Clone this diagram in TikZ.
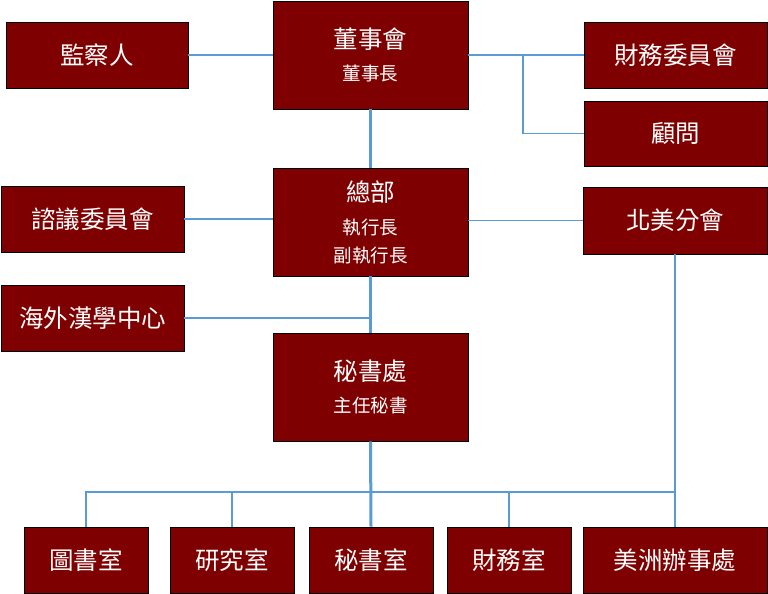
\documentclass[tikz,border=0pt]{standalone}
\usepackage{fontspec}
\usepackage{xcolor}
\usepackage{tikz}
\newfontfamily\cjk{Noto Sans CJK TC}
\definecolor{orgred}{HTML}{7F0000}
\definecolor{orgline}{HTML}{5B9BD5}
\newcommand\subsize{\fontsize{18.5}{24}\selectfont}

\begin{document}
\begin{tikzpicture}[x=1pt,y=-1pt,
  box/.style={rectangle,draw=black,line width=0.8pt,fill=orgred,
    text=white,inner sep=0pt,align=center,
    font=\cjk\fontsize{24.5}{28}\selectfont},
  unit/.style={box,minimum width=183pt,minimum height=66pt},
  big/.style={box,minimum width=195pt,minimum height=108pt},
  room/.style={box,minimum width=124pt,minimum height=66pt},
  link/.style={draw=orgline,line width=1.3pt},
  trunk/.style={draw=orgline,line width=3pt}]

  \useasboundingbox (0,0) rectangle (768,594);

  % top level
  \node[big] (board) at (370.5,55) {董事會\\[4pt]\subsize 董事長};
  \node[unit,minimum width=182pt] (audit) at (97,55) {監察人};
  \node[unit] (fincomm) at (675.5,55) {財務委員會};
  \node[unit,minimum height=65pt] (advisor) at (675.5,133.5) {顧問};

  % headquarters
  \node[big] (hq) at (370.5,222) {總部\\[5pt]\subsize 執行長\\\subsize 副執行長};
  \node[unit] (consult) at (92.5,219) {諮議委員會};
  \node[unit,minimum width=184pt,minimum height=67pt] (namerica) at (675,220.5) {北美分會};
  \node[unit] (overseas) at (92.5,318) {海外漢學中心};

  % secretariat
  \node[big] (secretariat) at (370.5,387) {秘書處\\[4pt]\subsize 主任秘書};

  % offices
  \node[room] (library) at (86,560) {圖書室};
  \node[room] (research) at (232,560) {研究室};
  \node[room] (secroom) at (371,560) {秘書室};
  \node[room] (finroom) at (509,560) {財務室};
  \node[unit,minimum width=184pt] (americas) at (675,560) {美洲辦事處};

  \coordinate (split) at (523,55);
  \coordinate (bus) at (371,492);

  \draw[link] (audit) -- (board);
  \draw[link] (board) -- (fincomm);
  \draw[link] (split) |- (advisor.west);
  \draw[link] (consult.east) -- (hq.west |- consult.east);
  \draw[link] (hq.east |- namerica) -- (namerica);
  \draw[link] (overseas.east) -- (hq.south |- overseas.east);
  \draw[trunk] (board) -- (hq);
  \draw[trunk] (hq) -- (secretariat);
  \draw[trunk] (secretariat.south) -- (secroom.north);
  \draw[link] (library.north) |- (bus) -| (americas.north);
  \draw[link] (research.north) -- (research.north |- bus);
  \draw[link] (finroom.north) -- (finroom.north |- bus);
  \draw[link] (namerica.south) -- (namerica.south |- bus);
\end{tikzpicture}
\end{document}
